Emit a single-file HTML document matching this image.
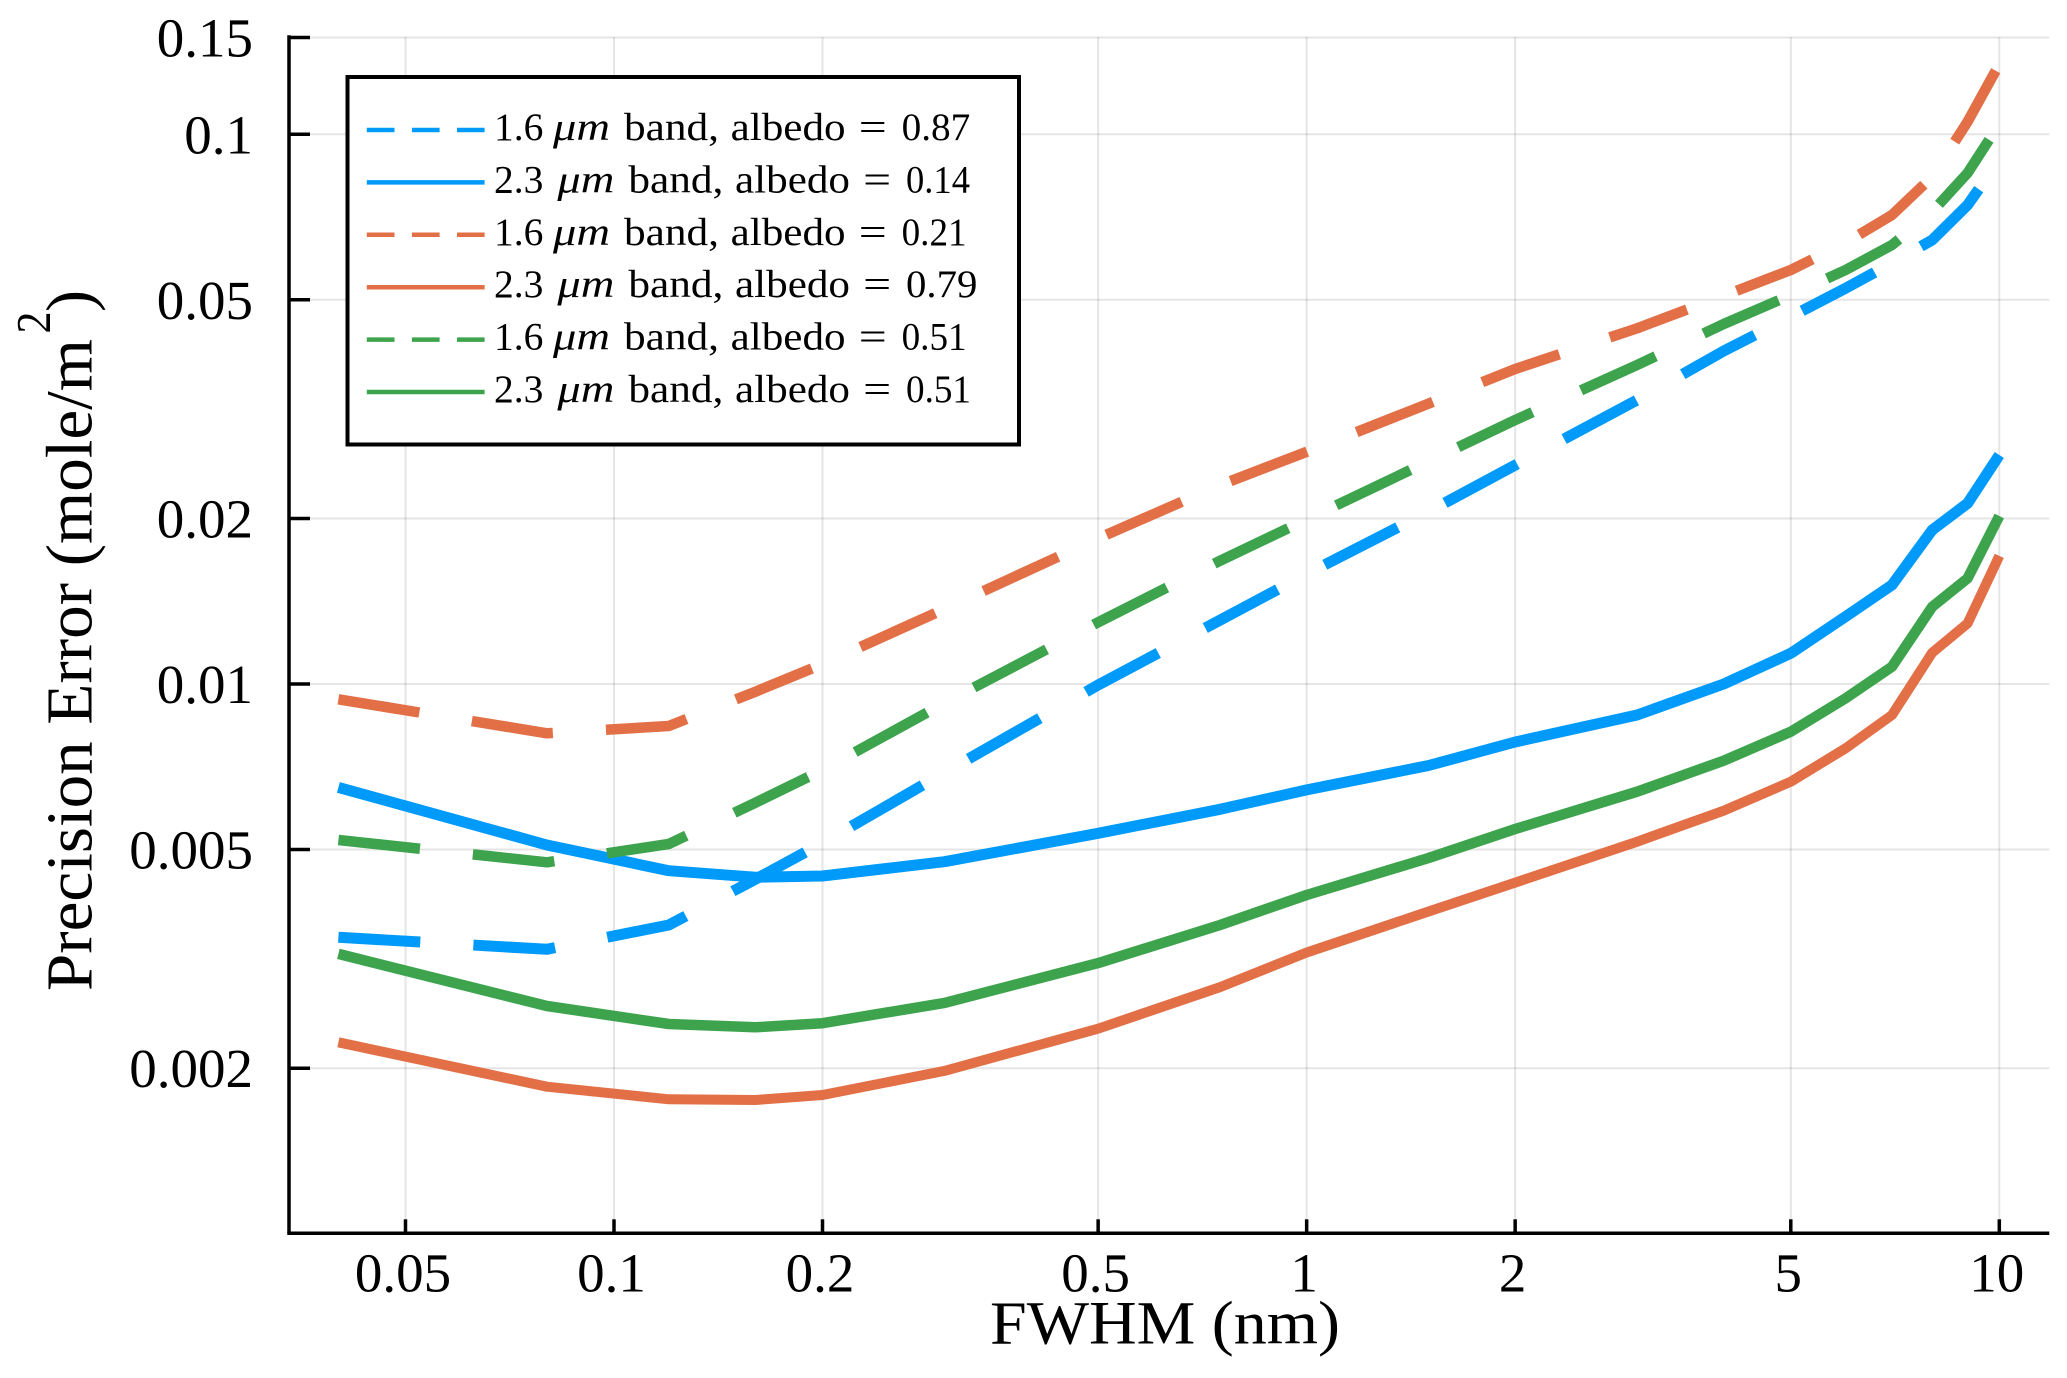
<!DOCTYPE html>
<html lang="en">
<head>
<meta charset="utf-8">
<title>Precision Error vs FWHM</title>
<style>
html,body{margin:0;padding:0;background:#fff;width:2067px;height:1378px;overflow:hidden}
svg{display:block}
text{font-family:"Liberation Serif",serif;fill:#000}
</style>
</head>
<body>
<svg id="chart" xmlns="http://www.w3.org/2000/svg" width="2067" height="1378" viewBox="0 0 2067 1378">
  <rect x="0" y="0" width="2067" height="1378" fill="#fff"/>
  <g id="grid"></g>
  <g id="series"></g>
  <g id="axes"></g>
  <text x="990" y="1343.5" font-size="61" textLength="350" lengthAdjust="spacingAndGlyphs">FWHM (nm)</text>
  <g>
    <text transform="translate(91.5 991) rotate(-90)" font-size="66" textLength="652" lengthAdjust="spacingAndGlyphs">Precision Error (mole/m</text>
    <text transform="translate(50 333.5) rotate(-90)" font-size="49" textLength="22" lengthAdjust="spacingAndGlyphs">2</text>
    <text transform="translate(91.5 312) rotate(-90)" font-size="66">)</text>
  </g>
  <g id="legend">
    <rect x="347.5" y="77" width="671.5" height="367.5" fill="#fff" stroke="#000" stroke-width="4"/>
  </g>
</svg>
<script>
// Chart data
const fwhmValues = [0.04,0.08,0.12,0.16,0.2,0.3,0.5,0.75,1,1.5,2,3,4,5,6,7,8,9,10];
const band16Albedo087 = [0.003461,0.003292,0.003644,0.004413,0.005138,0.0069,0.009958,0.01307,0.01585,0.02058,0.02502,0.03286,0.04035,0.04658,0.05246,0.05833,0.06422,0.07437,0.08979];
const band23Albedo014 = [0.006486,0.005094,0.004575,0.004451,0.004475,0.00475,0.005351,0.005917,0.006418,0.007108,0.007842,0.008781,0.01,0.01137,0.01326,0.01514,0.01906,0.02132,0.0261];
const band16Albedo021 = [0.00938,0.008135,0.008387,0.009683,0.01087,0.01369,0.01841,0.02301,0.02645,0.03237,0.03741,0.04437,0.05087,0.05664,0.0635,0.07131,0.08374,0.1054,0.1342];
const band23Albedo079 = [0.002229,0.001851,0.001756,0.001751,0.001788,0.001978,0.00236,0.002809,0.003248,0.003856,0.004352,0.005166,0.005882,0.006642,0.007638,0.008781,0.0114,0.01289,0.0171];
const band16Albedo051 = [0.005202,0.004738,0.005116,0.006082,0.006975,0.009234,0.01295,0.01676,0.01993,0.02542,0.03022,0.03804,0.04518,0.05101,0.05664,0.06289,0.07231,0.08504,0.1044];
const band23Albedo051 = [0.003228,0.002596,0.002407,0.002374,0.002415,0.00263,0.003107,0.003644,0.004132,0.004825,0.005448,0.006368,0.007251,0.00819,0.009418,0.01075,0.01382,0.01557,0.02021];
const xTickValues = [0.05,0.1,0.2,0.5,1,2,5,10];
const xTickLabels = ["0.05","0.1","0.2","0.5","1","2","5","10"];
const yTickValues = [0.002,0.005,0.01,0.02,0.05,0.1,0.15];
const yTickLabels = ["0.002","0.005","0.01","0.02","0.05","0.1","0.15"];
const bandLabels = ["1.6","2.3","1.6","2.3","1.6","2.3"];
const albedoLabels = ["0.87","0.14","0.21","0.79","0.51","0.51"];

const NS = "http://www.w3.org/2000/svg";
const BLUE = "#009AFA", ORANGE = "#E26F46", GREEN = "#3DA44D";
const seriesList = [
  {key:"blue-dashed-1-6um", values:band16Albedo087, color:BLUE, dashed:true, width:11, valueWidth:68.7},
  {key:"blue-solid-2-3um", values:band23Albedo014, color:BLUE, dashed:false, width:11, valueWidth:64},
  {key:"orange-dashed-1-6um", values:band16Albedo021, color:ORANGE, dashed:true, width:10.5, valueWidth:65},
  {key:"orange-solid-2-3um", values:band23Albedo079, color:ORANGE, dashed:false, width:10, valueWidth:71.4},
  {key:"green-dashed-1-6um", values:band16Albedo051, color:GREEN, dashed:true, width:10.5, valueWidth:65},
  {key:"green-solid-2-3um", values:band23Albedo051, color:GREEN, dashed:false, width:10.5, valueWidth:65}
];

const plotLeft = 289, plotRight = 2049.3, plotTop = 37, plotBottom = 1233.3;
function xScale(v){ return 1306.65 + 692.65 * Math.log10(v); }
function yScale(v){ return 684 - 549.7 * Math.log10(v / 0.01); }

function make(tag, parent, attrs){
  const el = document.createElementNS(NS, tag);
  for (const k in attrs) el.setAttribute(k, attrs[k]);
  parent.appendChild(el);
  return el;
}

const gridG = document.getElementById("grid");
const axesG = document.getElementById("axes");
const seriesG = document.getElementById("series");
const legendG = document.getElementById("legend");

// grid lines and ticks
xTickValues.forEach(function(v, i){
  const x = xScale(v);
  const g = make("line", gridG, {x1:x, x2:x, y1:plotTop, y2:plotBottom, stroke:"#000", "stroke-opacity":0.1, "stroke-width":2});
  
  
  const t = make("line", axesG, {x1:x, x2:x, y1:plotBottom, y2:plotBottom-14, stroke:"#000", "stroke-width":3.5});
  
  
  const l = make("text", axesG, {x:x-2.5, y:1291.7, "font-size":55, "text-anchor":"middle"});
  l.textContent = xTickLabels[i];
  
  
});
yTickValues.forEach(function(v, i){
  const y = yScale(v);
  const g = make("line", gridG, {x1:plotLeft, x2:plotRight, y1:y, y2:y, stroke:"#000", "stroke-opacity":0.1, "stroke-width":2});
  
  
  const t = make("line", axesG, {x1:plotLeft, x2:plotLeft+21, y1:y, y2:y, stroke:"#000", "stroke-width":3.5});
  
  
  const l = make("text", axesG, {x:253, y:y+19, "font-size":55, "text-anchor":"end"});
  l.textContent = yTickLabels[i];
  
  
});
const xAxisLine = make("line", axesG, {x1:plotLeft-1.7, x2:plotRight, y1:plotBottom, y2:plotBottom, stroke:"#000", "stroke-width":3.5});


const yAxisLine = make("line", axesG, {x1:plotLeft, x2:plotLeft, y1:plotTop-1.7, y2:plotBottom, stroke:"#000", "stroke-width":3.5});



// series lines
seriesList.forEach(function(s){
  const pts = s.values.map(function(v, i){ return xScale(fwhmValues[i]).toFixed(1) + "," + yScale(v).toFixed(1); }).join(" ");
  const line = make("polyline", seriesG, {points:pts, fill:"none", stroke:s.color, "stroke-width":s.width, "stroke-linejoin":"round"});
  if (s.dashed) line.setAttribute("stroke-dasharray", "82 53.2");
  
  
});

// legend
function legendText(rowIdx, str, x, y, len, italic){
  const t = make("text", legendG, {x:x, y:y, "font-size":39.5});
  if (len) { t.setAttribute("textLength", len); t.setAttribute("lengthAdjust", "spacingAndGlyphs"); }
  if (italic) t.setAttribute("font-style", "italic");
  t.textContent = str;
  
  
}
seriesList.forEach(function(s, i){
  const lineY = 130 + 52.4 * i;
  const baseY = 140 + 52.4 * i;
  const shift = bandLabels[i] === "2.3" ? 4.4 : 0;
  const sample = make("line", legendG, {x1:366.8, x2:484.6, y1:lineY, y2:lineY, stroke:s.color, "stroke-width":4.5});
  if (s.dashed) sample.setAttribute("stroke-dasharray", "27.7 17.4");
  
  
  legendText(i, bandLabels[i], 494, baseY);
  legendText(i, "\u03BCm", 553 + shift, baseY, 57, true);
  legendText(i, "band,", 624 + shift, baseY, 95);
  legendText(i, "albedo", 730.6 + shift, baseY, 115);
  legendText(i, "=", 858.8 + shift, baseY, 28);
  legendText(i, albedoLabels[i], 901.6 + shift, baseY, s.valueWidth);
});
</script>
</body>
</html>
